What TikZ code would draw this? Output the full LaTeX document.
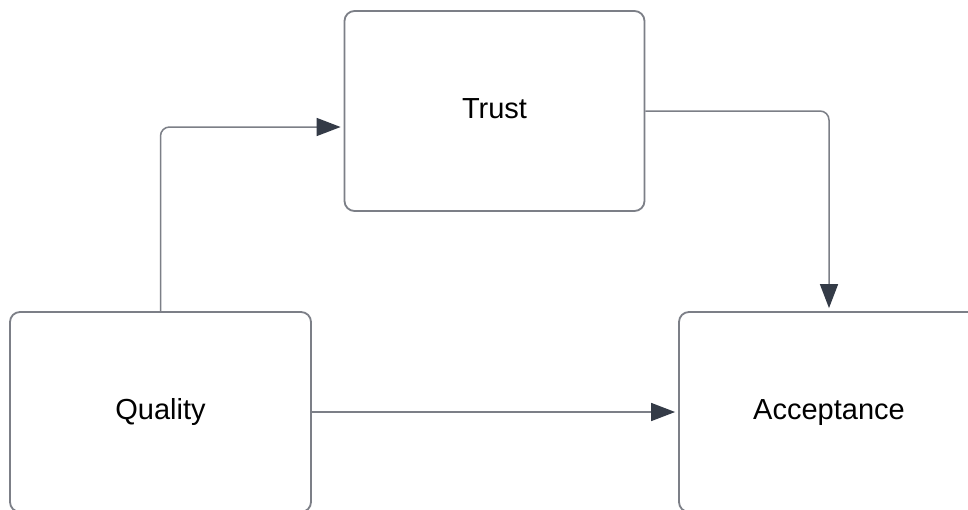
\documentclass[tikz,border=0pt]{standalone}
\usepackage{fontspec}
\setmainfont{Liberation Sans}
\usetikzlibrary{arrows.meta}
\definecolor{boxline}{HTML}{7C7F87}
\definecolor{tipcol}{HTML}{343B47}
\tikzset{
  block/.style={draw=boxline, line width=1.8pt, rounded corners=10pt, fill=white,
    minimum width=300pt, minimum height=200pt, inner sep=0pt,
    text height=21pt, text depth=7pt,
    font=\fontsize{29}{34}\selectfont, text=black},
  link/.style={draw=boxline, line width=1.5pt, rounded corners=9pt,
    -{Triangle[length=24pt,width=18pt,color=tipcol]}, shorten >=3pt}
}
\begin{document}
\begin{tikzpicture}[x=1pt,y=-1pt]
\useasboundingbox (0,0) rectangle (968,509);
\clip (0,0) rectangle (968,509);
\fill[white] (0,0) rectangle (968,509);
\node[block] (T) at (494.5,111) {Trust};
\node[block, minimum width=301pt] (Q) at (160.5,412) {Quality};
\node[block] (A) at (829,412) {Acceptance};
\draw[link] (Q.north) |- ([yshift=-16pt]T.west);
\draw[link] (T.east) -| (A.north);
\draw[link] (Q.east) -- (A.west);
\end{tikzpicture}
\end{document}
